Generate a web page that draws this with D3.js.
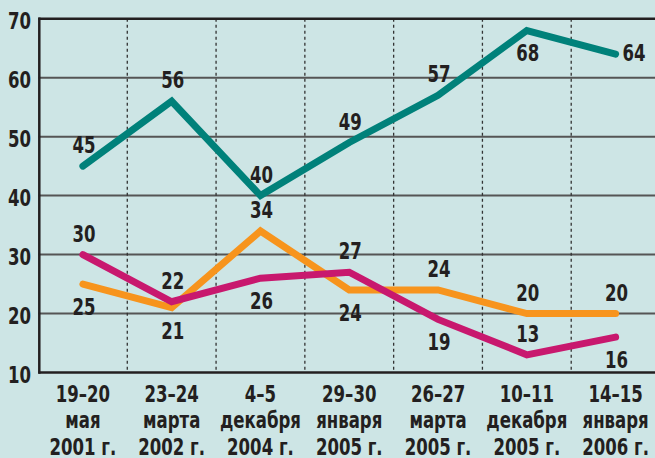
<!DOCTYPE html>
<html>
<head>
<meta charset="utf-8">
<script src="https://cdn.jsdelivr.net/npm/d3@7"></script>
<style>
  html, body { margin: 0; padding: 0; background: #cde5e5; }
  svg { display: block; }
  text { font-family: "Liberation Sans Narrow", "Arial Narrow", "DejaVu Sans Condensed", sans-serif; font-weight: bold; fill: #231f20; }
</style>
</head>
<body>
<svg id="chart" width="655" height="458"></svg>
<script>
// ---- data ----
const categories = [
  ["19–20", "мая", "2001 г."],
  ["23–24", "марта", "2002 г."],
  ["4–5", "декабря", "2004 г."],
  ["29–30", "января", "2005 г."],
  ["26–27", "марта", "2005 г."],
  ["10–11", "декабря", "2005 г."],
  ["14–15", "января", "2006 г."]
];
const tealValues    = [45, 56, 40, 49, 57, 68, 64];
const orangeValues  = [25, 21, 34, 24, 24, 20, 20];
const magentaValues = [30, 22, 26, 27, 19, 13, 16];
const yTicks = [10, 20, 30, 40, 50, 60, 70];
// label placement: a = above, b = below, r = right
const tealLabelSide    = ["a", "a", "a", "a", "a", "b", "r"];
const orangeLabelSide  = ["b", "b", "a", "b", "a", "a", "a"];
const magentaLabelSide = ["a", "a", "b", "a", "b", "a", "b"];

const series = [
  { values: orangeValues,  sides: orangeLabelSide,  color: "#f7941d" },
  { values: magentaValues, sides: magentaLabelSide, color: "#c8186e" },
  { values: tealValues,    sides: tealLabelSide,    color: "#00817a" }
];

const SX = 0.8;   // horizontal squeeze to mimic a condensed face
const FS = 23;

// ---- scales ----
const svg = d3.select("#chart");
const x = d3.scaleBand().domain(d3.range(categories.length)).range([38.5, 660]);
const cx = i => x(i) + x.bandwidth() / 2;
const y = d3.scaleLinear().domain([10, 70]).range([372.5, 18.7]);

// gridlines
svg.append("g").selectAll("line").data(yTicks.filter(t => t > 10 && t < 70)).join("line")
  .attr("x1", 38.5).attr("x2", 655)
  .attr("y1", d => y(d)).attr("y2", d => y(d))
  .attr("stroke", "#555").attr("stroke-width", 2);

// vertical dotted separators
svg.append("g").selectAll("line").data(d3.range(1, categories.length)).join("line")
  .attr("x1", d => x(d)).attr("x2", d => x(d))
  .attr("y1", y(70)).attr("y2", y(10))
  .attr("stroke", "#333").attr("stroke-width", 1.3).attr("stroke-dasharray", "3,3");

// top and bottom frame
svg.append("line").attr("x1", 38.5).attr("x2", 655).attr("y1", y(70)).attr("y2", y(70))
  .attr("stroke", "#231f20").attr("stroke-width", 2.5);
svg.append("line").attr("x1", 38.5).attr("x2", 655).attr("y1", y(10)).attr("y2", y(10))
  .attr("stroke", "#231f20").attr("stroke-width", 2.5);
svg.append("line").attr("x1", 39.3).attr("x2", 39.3).attr("y1", y(70) - 1.2).attr("y2", y(10) + 1.2)
  .attr("stroke", "#231f20").attr("stroke-width", 2.5);

// y axis labels
const yAxis = d3.axisLeft(y).tickValues(yTicks).tickSize(0).tickPadding(0);
const ya = svg.append("g").attr("transform", "translate(31,0)").call(yAxis);
ya.select(".domain").remove();
ya.attr("font-family", null).attr("font-size", null);
ya.selectAll("text").attr("font-size", FS).attr("dy", "0.42em")
  .attr("transform", `scale(${SX},1)`);

// x axis labels
const xg = svg.append("g").selectAll("g").data(categories).join("g")
  .attr("transform", (d, i) => `translate(${cx(i)},0) scale(${SX},1)`);
xg.selectAll("text").data(d => d).join("text")
  .attr("text-anchor", "middle").attr("font-size", FS)
  .attr("x", 0)
  .attr("y", (d, j) => 402 + j * 26.3)
  .text(d => d);

// lines
const line = d3.line().x((d, i) => cx(i)).y(d => y(d));
series.forEach(s => {
  svg.append("path").datum(s.values).attr("d", line)
    .attr("fill", "none").attr("stroke", s.color).attr("stroke-width", 7)
    .attr("stroke-linejoin", "miter").attr("stroke-linecap", "round");
});

// value labels
series.forEach(s => {
  svg.append("g").selectAll("text").data(s.values).join("text")
    .attr("font-size", FS)
    .attr("text-anchor", (d, i) => s.sides[i] === "r" ? "start" : "middle")
    .attr("transform", (d, i) => {
      const side = s.sides[i];
      let px = cx(i) + 1, py;
      if (side === "a") py = y(d) - 13;
      else if (side === "b") py = y(d) + 31;
      else { px = cx(i) + 7; py = y(d) + 7; }
      return `translate(${px},${py}) scale(${SX},1)`;
    })
    .text(d => d);
});
</script>
</body>
</html>
